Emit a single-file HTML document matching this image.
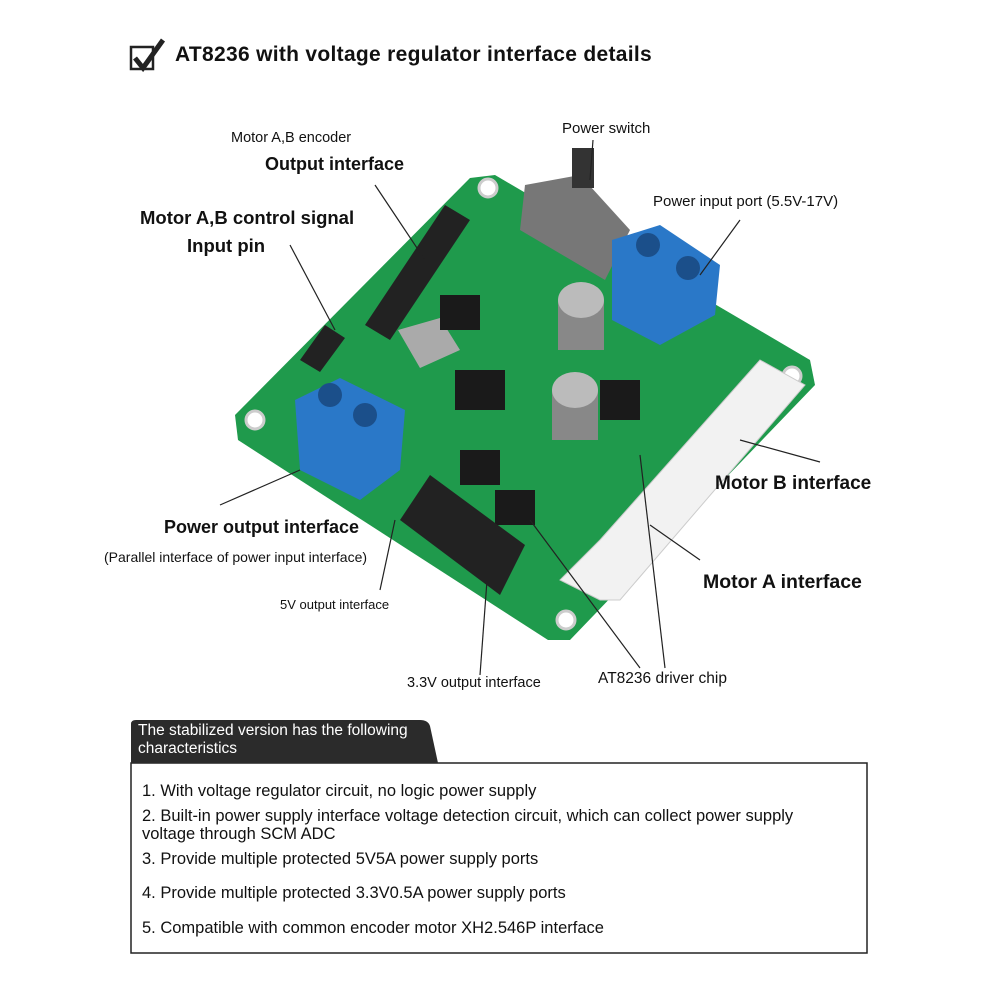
<!DOCTYPE html>
<html><head><meta charset="utf-8"><style>
body{margin:0;width:1001px;height:1001px;background:#fff;position:relative;overflow:hidden;font-family:"Liberation Sans",sans-serif;}
.t{position:absolute;color:#111;white-space:nowrap}
</style></head><body>
<svg width="1001" height="1001" style="position:absolute;left:0;top:0">
<rect x="131" y="47" width="22" height="22" fill="none" stroke="#222" stroke-width="2.5"/>
<path d="M135 58 L143 68 L163 40" fill="none" stroke="#222" stroke-width="5"/>
<polygon points="470,178 495,175 810,360 815,385 570,640 548,640 238,440 235,415" fill="#1f9a4c"/>
<circle cx="488" cy="188" r="9" fill="#fff" stroke="#ccc" stroke-width="3"/>
<circle cx="792" cy="376" r="9" fill="#fff" stroke="#ccc" stroke-width="3"/>
<circle cx="255" cy="420" r="9" fill="#fff" stroke="#ccc" stroke-width="3"/>
<circle cx="566" cy="620" r="9" fill="#fff" stroke="#ccc" stroke-width="3"/>
<polygon points="365,325 445,205 470,220 390,340" fill="#222"/>
<polygon points="300,360 325,325 345,338 320,372" fill="#222"/>
<polygon points="525,185 580,175 630,230 605,280 520,230" fill="#777"/>
<rect x="572" y="148" width="22" height="40" fill="#333"/>
<polygon points="398,330 440,318 460,350 420,368" fill="#aaa"/>
<rect x="440" y="295" width="40" height="35" fill="#1a1a1a"/>
<rect x="455" y="370" width="50" height="40" fill="#1a1a1a"/>
<rect x="460" y="450" width="40" height="35" fill="#1a1a1a"/>
<rect x="495" y="490" width="40" height="35" fill="#1a1a1a"/>
<rect x="600" y="380" width="40" height="40" fill="#1a1a1a"/>
<rect x="558" y="300" width="46" height="50" fill="#888"/>
<ellipse cx="581" cy="300" rx="23" ry="18" fill="#bbb"/>
<rect x="552" y="390" width="46" height="50" fill="#888"/>
<ellipse cx="575" cy="390" rx="23" ry="18" fill="#bbb"/>
<polygon points="612,240 660,225 720,265 715,315 660,345 612,320" fill="#2a78c8"/>
<circle cx="648" cy="245" r="12" fill="#1b4f8a"/><circle cx="688" cy="268" r="12" fill="#1b4f8a"/>
<polygon points="295,400 340,378 405,410 400,470 360,500 300,470" fill="#2a78c8"/>
<circle cx="330" cy="395" r="12" fill="#1b4f8a"/><circle cx="365" cy="415" r="12" fill="#1b4f8a"/>
<polygon points="400,520 430,475 525,545 500,595" fill="#222"/>
<polygon points="760,360 805,385 620,600 600,600 560,580 600,540" fill="#f2f2f2" stroke="#ccc"/>
<g stroke="#222" stroke-width="1.2" fill="none">
<line x1="593" y1="140" x2="590" y2="180"/>
<line x1="375" y1="185" x2="425" y2="260"/>
<line x1="290" y1="245" x2="335" y2="330"/>
<line x1="740" y1="220" x2="700" y2="275"/>
<line x1="220" y1="505" x2="300" y2="470"/>
<line x1="380" y1="590" x2="395" y2="520"/>
<line x1="480" y1="675" x2="490" y2="540"/>
<line x1="640" y1="668" x2="530" y2="520"/>
<line x1="665" y1="668" x2="640" y2="455"/>
<line x1="820" y1="462" x2="740" y2="440"/>
<line x1="700" y1="560" x2="650" y2="525"/>
</g>
<rect x="131" y="763" width="736" height="190" fill="#fff" stroke="#222" stroke-width="1.5"/>
<path d="M131 763 L131 724 Q131 720 136 720 L420 720 Q428 720 430 726 L438 763 Z" fill="#2b2b2b"/>
</svg>
<div class="t" style="left:175px;top:43px;font-size:21px;font-weight:bold;letter-spacing:0.3px">AT8236 with voltage regulator interface details</div>
<div class="t" style="left:231px;top:130px;font-size:14.5px;">Motor A,B encoder</div>
<div class="t" style="left:265px;top:154px;font-size:18px;font-weight:bold;">Output interface</div>
<div class="t" style="left:562px;top:120px;font-size:15px;">Power switch</div>
<div class="t" style="left:140px;top:207px;font-size:18.5px;font-weight:bold;">Motor A,B control signal</div>
<div class="t" style="left:187px;top:235px;font-size:18.5px;font-weight:bold;">Input pin</div>
<div class="t" style="left:653px;top:193px;font-size:15px;">Power input port (5.5V-17V)</div>
<div class="t" style="left:715px;top:473px;font-size:19px;font-weight:bold;">Motor B interface</div>
<div class="t" style="left:164px;top:517px;font-size:18px;font-weight:bold;">Power output interface</div>
<div class="t" style="left:104px;top:549px;font-size:14px;">(Parallel interface of power input interface)</div>
<div class="t" style="left:703px;top:571px;font-size:19.5px;font-weight:bold;">Motor A interface</div>
<div class="t" style="left:280px;top:597px;font-size:13px;">5V output interface</div>
<div class="t" style="left:407px;top:675px;font-size:14.5px;">3.3V output interface</div>
<div class="t" style="left:598px;top:670px;font-size:15.5px;">AT8236 driver chip</div>
<div class="t" style="left:138px;top:722px;font-size:15.5px;color:#fff;line-height:18px;">The stabilized version has the following<br>characteristics</div>
<div class="t" style="left:142px;top:782px;font-size:16.5px;">1. With voltage regulator circuit, no logic power supply</div>
<div class="t" style="left:142px;top:807px;font-size:16.5px;line-height:18px;">2. Built-in power supply interface voltage detection circuit, which can collect power supply<br>voltage through SCM ADC</div>
<div class="t" style="left:142px;top:850px;font-size:16.5px;">3. Provide multiple protected 5V5A power supply ports</div>
<div class="t" style="left:142px;top:884px;font-size:16.5px;">4. Provide multiple protected 3.3V0.5A power supply ports</div>
<div class="t" style="left:142px;top:919px;font-size:16.5px;">5. Compatible with common encoder motor XH2.546P interface</div>
</body></html>
